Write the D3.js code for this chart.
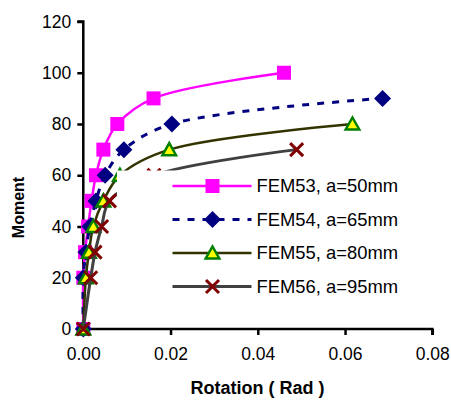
<!DOCTYPE html>
<html>
<head>
<meta charset="utf-8">
<script src="https://cdn.jsdelivr.net/npm/d3@7"></script>
<style>
  html, body { margin: 0; padding: 0; background: #fff; }
  svg { display: block; font-family: Arial, "Liberation Sans", sans-serif; }
</style>
</head>
<body>
<svg id="chart" width="451" height="400"></svg>
<script>
// ---- data ----
const seriesNames = ["FEM53, a=50mm", "FEM54, a=65mm", "FEM55, a=80mm", "FEM56, a=95mm"];
const fem53X = [0, 0, 0.0004, 0.0011, 0.0019, 0.0029, 0.0046, 0.0078, 0.0161, 0.0460];
const fem53Y = [0, 20, 30, 40, 50, 60, 70, 80, 90, 100];
const fem54X = [0, 0, 0.0006, 0.0015, 0.0029, 0.0050, 0.0093, 0.0203, 0.0686];
const fem54Y = [0, 20, 30, 40, 50, 60, 70, 80, 90];
const fem55X = [0, 0.0006, 0.0013, 0.0023, 0.0046, 0.0084, 0.0197, 0.0617];
const fem55Y = [0, 20, 30, 40, 50, 60, 70, 80];
const fem56X = [0, 0.0017, 0.0027, 0.0042, 0.0060, 0.0162, 0.0489];
const fem56Y = [0, 20, 30, 40, 50, 60, 70];
const xTicks = [0, 0.02, 0.04, 0.06, 0.08];
const yTicks = [0, 20, 40, 60, 80, 100, 120];
const xTitle = "Rotation ( Rad )";
const yTitle = "Moment";

const svg = d3.select("#chart");
const x = d3.scaleLinear().domain([0, 0.08]).range([83.3, 432.3]);
const y = d3.scaleLinear().domain([0, 120]).range([329, 21.5]);

const series = [
  { name: seriesNames[0], xs: fem53X, ys: fem53Y, line: "#FF00FF", width: 2.5, dash: null, marker: "square" },
  { name: seriesNames[1], xs: fem54X, ys: fem54Y, line: "#000080", width: 3, dash: "7,8", marker: "diamond" },
  { name: seriesNames[2], xs: fem55X, ys: fem55Y, line: "#333300", width: 2.5, dash: null, marker: "triangle" },
  { name: seriesNames[3], xs: fem56X, ys: fem56Y, line: "#404040", width: 3, dash: null, marker: "cross" }
];

function drawMarker(g, type, cx, cy) {
  if (type === "square") {
    g.append("rect").attr("x", cx - 7).attr("y", cy - 7).attr("width", 14).attr("height", 14)
      .attr("fill", "#FF00FF");
  } else if (type === "diamond") {
    g.append("path").attr("d", `M${cx},${cy - 8.5}L${cx + 8.5},${cy}L${cx},${cy + 8.5}L${cx - 8.5},${cy}Z`)
      .attr("fill", "#000080");
  } else if (type === "triangle") {
    g.append("path").attr("d", `M${cx},${cy - 6.5}L${cx + 6.8},${cy + 5.5}L${cx - 6.8},${cy + 5.5}Z`)
      .attr("fill", "#FFFF00").attr("stroke", "#008000").attr("stroke-width", 2.5).attr("stroke-linejoin", "miter");
  } else if (type === "cross") {
    const s = 6.5;
    g.append("path").attr("d", `M${cx - s},${cy - s}L${cx + s},${cy + s}M${cx + s},${cy - s}L${cx - s},${cy + s}`)
      .attr("stroke", "#800000").attr("stroke-width", 3).attr("fill", "none");
  }
}

// axes
const yAxis = d3.axisLeft(y).tickValues(yTicks).tickSize(6).tickPadding(6).tickFormat(d3.format("d"));
const xAxis = d3.axisBottom(x).tickValues(xTicks).tickSize(6).tickPadding(13).tickFormat(d3.format(".2f"));

const gy = svg.append("g").attr("transform", `translate(${x(0)},0)`).call(yAxis);
const gx = svg.append("g").attr("transform", `translate(0,${y(0)})`).call(xAxis);
[gx, gy].forEach(g => {
  g.select(".domain").attr("stroke", "#000").attr("stroke-width", 2.5);
  g.selectAll(".tick line").attr("stroke", "#000").attr("stroke-width", 2.5);
  g.selectAll(".tick text").attr("fill", "#000").style("font-size", "17.5px")
    .style("font-family", "Arial, 'Liberation Sans', sans-serif");
});
gy.select(".domain").attr("d", `M-6,${y(120)}H0V${y(0)}H-6`);
gx.select(".domain").attr("d", `M${x(0)},6V0H${x(0.08)}V6`);

// series
const lineGen = d3.line().x(d => x(d[0])).y(d => y(d[1])).curve(d3.curveCatmullRom.alpha(0.5));
const plot = svg.append("g");
series.forEach(s => {
  const pts = s.xs.map((v, i) => [v, s.ys[i]]);
  const g = plot.append("g");
  g.append("path").attr("d", lineGen(pts)).attr("fill", "none")
    .attr("stroke", s.line).attr("stroke-width", s.width)
    .attr("stroke-dasharray", s.dash);
  pts.forEach(p => drawMarker(g, s.marker, x(p[0]), y(p[1])));
});

// legend
const lg = svg.append("g");
lg.append("rect").attr("x", 117).attr("y", 170.5).attr("width", 295).attr("height", 132).attr("fill", "#fff");
const rowY = [186, 219.5, 253, 286.5];
series.forEach((s, i) => {
  const ry = rowY[i];
  lg.append("line").attr("x1", 172.5).attr("x2", 251.5).attr("y1", ry).attr("y2", ry)
    .attr("stroke", s.line).attr("stroke-width", s.width).attr("stroke-dasharray", s.dash);
  drawMarker(lg, s.marker, 212.5, ry);
  lg.append("text").attr("x", 256.5).attr("y", ry).attr("dy", "0.35em")
    .style("font-size", "18.4px").attr("fill", "#000").text(s.name);
});

// titles
svg.append("text").attr("x", 257.5).attr("y", 388).attr("dy", "0.35em").attr("text-anchor", "middle")
  .style("font-size", "18px").style("font-weight", "bold").text(xTitle);
svg.append("text").attr("transform", "translate(18.5,207.5) rotate(-90)").attr("dy", "0.35em")
  .attr("text-anchor", "middle").style("font-size", "16px").style("font-weight", "bold").text(yTitle);
</script>
</body>
</html>
